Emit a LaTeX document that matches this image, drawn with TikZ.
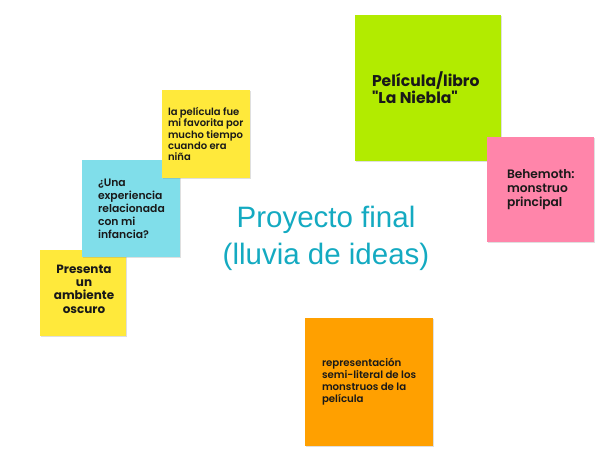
\documentclass[tikz,border=0pt]{standalone}
\usepackage{fontspec}
\setmainfont{Liberation Sans}
\newfontfamily\notefont{Poppins}[BoldFont={Poppins SemiBold}]
\newfontfamily\notebold{Poppins}[UprightFont={Poppins Bold}]
\usetikzlibrary{shadows}

\definecolor{noteyellow}{RGB}{255,233,59}
\definecolor{notecyan}{RGB}{128,222,234}
\definecolor{notegreen}{RGB}{178,235,0}
\definecolor{notepink}{RGB}{255,133,170}
\definecolor{noteorange}{RGB}{255,160,0}
\definecolor{titlecyan}{RGB}{20,170,193}

\tikzset{
  note/.style={rectangle, inner sep=0pt, draw=none,
    drop shadow={shadow xshift=0.5pt, shadow yshift=-1.2pt, opacity=0.25}},
  notetext/.style={inner sep=0pt, align=left, anchor=west, text=black!90},
}

\begin{document}
\begin{tikzpicture}[x=1pt, y=-1pt]

\useasboundingbox (0,0) rectangle (610,468);

\node[note, fill=noteyellow, minimum width=86pt, minimum height=86pt] (oscuro) at (83,293) {};
\node[inner sep=0pt, align=center, text=black!90, font=\notebold\fontsize{12}{13.3}\selectfont] (oscurotxt) at (84,289) {Presenta\\un\\ambiente\\oscuro};

\node[note, fill=notecyan, minimum width=98pt, minimum height=97pt] (infancia) at (131,208.5) {};
\node[notetext, font=\notefont\bfseries\fontsize{10.8}{13}\selectfont] (infanciatxt) at ([xshift=16pt]infancia.west) {¿Una\\experiencia\\relacionada\\con mi\\infancia?};

\node[note, fill=noteyellow, minimum width=88pt, minimum height=88pt] (favorita) at (206,134) {};
\node[notetext, font=\notefont\bfseries\fontsize{10}{11.3}\selectfont] (favoritatxt) at ([xshift=6pt]favorita.west) {la película fue\\mi favorita por\\mucho tiempo\\cuando era\\niña};

\node[note, fill=notegreen, minimum width=146pt, minimum height=146pt] (niebla) at (428,88) {};
\node[notetext, font=\notebold\fontsize{15.6}{17}\selectfont] (nieblatxt) at ([xshift=17pt]niebla.west) {Película/libro\\"La Niebla"};

\node[note, fill=notepink, minimum width=107pt, minimum height=105pt] (behemoth) at (540.5,189.5) {};
\node[notetext, font=\notefont\bfseries\fontsize{12.2}{14}\selectfont] (behemothtxt) at ([xshift=20pt]behemoth.west) {Behemoth:\\monstruo\\principal};

\node[note, fill=noteorange, minimum width=128pt, minimum height=128pt] (monstruos) at (369,382) {};
\node[notetext, font=\notefont\bfseries\fontsize{10.2}{12}\selectfont] (monstruostxt) at ([xshift=17pt]monstruos.west) {representación\\semi-literal de los\\monstruos de la\\película};

% title in the middle
\node[align=center, text=titlecyan, font=\fontsize{29.5}{37}\selectfont] (titulo) at (326,238) {Proyecto final\\(lluvia de ideas)};

\end{tikzpicture}
\end{document}
